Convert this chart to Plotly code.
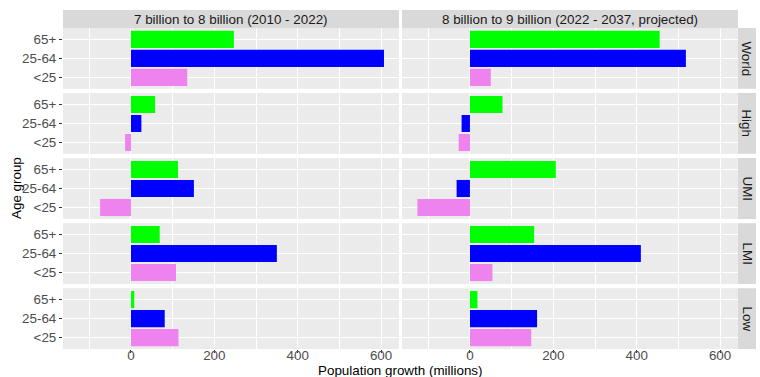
import plotly.graph_objects as go

# ---- data (population growth, millions) ----
regions = ["World", "High", "UMI", "LMI", "Low"]
periods = ["7 billion to 8 billion (2010 - 2022)",
           "8 billion to 9 billion (2022 - 2037, projected)"]
age_groups = ["65+", "25-64", "<25"]
age_colors = ["#00FF00", "#0000FF", "#EE82EE"]

p1_65 = [247, 58, 113, 69, 8]
p1_2564 = [607, 25, 151, 350, 81]
p1_u25 = [135, -14, -74, 108, 114]

p2_65 = [455, 78, 206, 154, 18]
p2_2564 = [518, -20, -32, 410, 161]
p2_u25 = [50, -27, -126, 54, 147]

period_data = [
    [p1_65, p1_2564, p1_u25],
    [p2_65, p2_2564, p2_u25],
]

x_ticks = [0, 200, 400, 600]
x_minor = [-100, 100, 300, 500]
x_range = [-163, 643]

# ---- layout geometry (pixels) ----
W, H = 760, 377
col_x = [(63, 399), (402, 738)]
row_top0 = 28
panel_h = 60.8
gap = 4.25
strip_top = (10, 28)
right_strip = (738, 756)
FS = 13.4

def px_x(v):
    return v / W

def px_y(v):
    return 1 - v / H

fig = go.Figure()
layout = dict(
    width=W, height=H,
    margin=dict(l=0, r=0, t=0, b=0),
    paper_bgcolor="white", plot_bgcolor="#EBEBEB",
    showlegend=False,
    font=dict(family="Liberation Sans, Arial, sans-serif", size=FS, color="#4D4D4D"),
    bargap=0.1,
)
shapes = []
annotations = []

for r, region in enumerate(regions):
    y0 = row_top0 + r * (panel_h + gap)
    y1 = y0 + panel_h
    for c in range(2):
        k = r * 2 + c + 1
        xname = "xaxis" if k == 1 else f"xaxis{k}"
        yname = "yaxis" if k == 1 else f"yaxis{k}"
        xref = "x" if k == 1 else f"x{k}"
        yref = "y" if k == 1 else f"y{k}"
        xa, xb = col_x[c]
        bottom = (r == len(regions) - 1)
        layout[xname] = dict(
            domain=[px_x(xa), px_x(xb)], anchor=yref, range=x_range,
            tickvals=x_ticks, ticktext=[str(t) for t in x_ticks],
            showticklabels=bottom,
            ticks="outside" if bottom else "",
            ticklen=3, tickcolor="#333333", tickwidth=1,
            ticklabelstandoff=-9 if bottom else 0,
            showgrid=True, gridcolor="white", gridwidth=1.1,
            minor=dict(tickvals=x_minor, showgrid=True, gridcolor="white", gridwidth=0.5),
            zeroline=False, showline=False, fixedrange=True,
            tickfont=dict(size=FS, color="#4D4D4D"),
        )
        layout[yname] = dict(
            domain=[px_y(y1), px_y(y0)], anchor=xref,
            type="category", categoryorder="array",
            categoryarray=list(reversed(age_groups)),
            range=[-0.6, 2.6],
            showticklabels=(c == 0),
            ticks="outside" if c == 0 else "",
            ticklen=3, tickcolor="#333333", tickwidth=1,
            showgrid=True, gridcolor="white", gridwidth=1.1,
            zeroline=False, showline=False, fixedrange=True,
            tickfont=dict(size=FS, color="#4D4D4D"),
        )
        for a, age in enumerate(age_groups):
            fig.add_trace(go.Bar(
                x=[period_data[c][a][r]], y=[age], orientation="h",
                width=0.9, marker=dict(color=age_colors[a], line=dict(width=0)),
                xaxis=xref, yaxis=yref, hoverinfo="x+y",
            ))
    # right strip
    shapes.append(dict(type="rect", xref="paper", yref="paper",
                       x0=px_x(right_strip[0]), x1=px_x(right_strip[1]),
                       y0=px_y(y1), y1=px_y(y0), fillcolor="#D9D9D9", line=dict(width=0), layer="below"))
    annotations.append(dict(text=region, xref="paper", yref="paper",
                            x=px_x((right_strip[0] + right_strip[1]) / 2), y=px_y((y0 + y1) / 2),
                            showarrow=False, textangle=90,
                            font=dict(size=FS, color="#1A1A1A"),
                            xanchor="center", yanchor="middle"))

# top strips
for c, label in enumerate(periods):
    xa, xb = col_x[c]
    shapes.append(dict(type="rect", xref="paper", yref="paper",
                       x0=px_x(xa), x1=px_x(xb), y0=px_y(strip_top[1]), y1=px_y(strip_top[0]),
                       fillcolor="#D9D9D9", line=dict(width=0), layer="below"))
    annotations.append(dict(text=label, xref="paper", yref="paper",
                            x=px_x((xa + xb) / 2), y=px_y(sum(strip_top) / 2),
                            showarrow=False, font=dict(size=FS, color="#1A1A1A"),
                            xanchor="center", yanchor="middle"))

# axis titles
annotations.append(dict(text="Population growth (millions)", xref="paper", yref="paper",
                        x=px_x(400.5), y=px_y(370), showarrow=False,
                        font=dict(size=FS, color="black"), xanchor="center", yanchor="middle"))
annotations.append(dict(text="Age group", xref="paper", yref="paper",
                        x=px_x(16.5), y=px_y(188.5), showarrow=False, textangle=-90,
                        font=dict(size=FS, color="black"), xanchor="center", yanchor="middle"))

layout["shapes"] = shapes
layout["annotations"] = annotations
fig.update_layout(**layout)
fig.write_html("out.html")
